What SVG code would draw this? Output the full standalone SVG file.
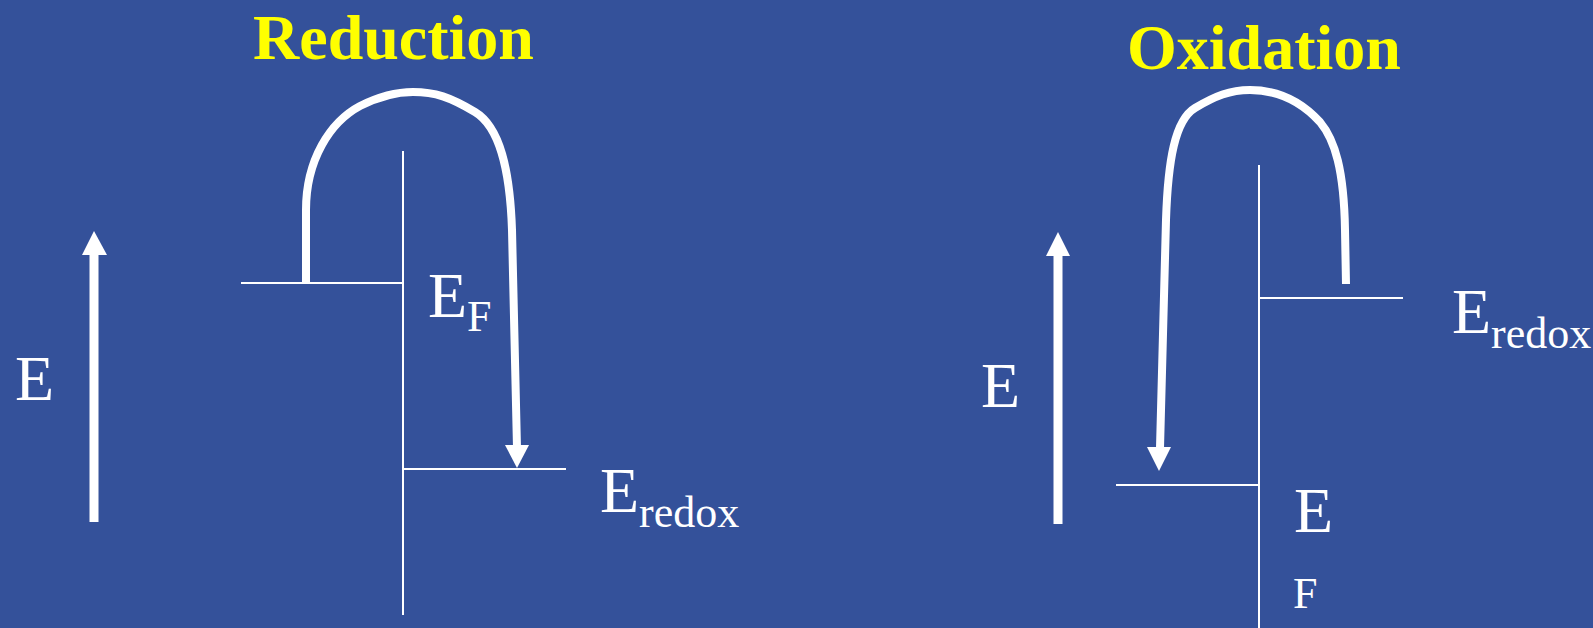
<svg xmlns="http://www.w3.org/2000/svg" width="1593" height="628" viewBox="0 0 1593 628">
<style>
.title{font-family:"Liberation Serif","Times New Roman",serif;font-weight:bold;font-size:64px;fill:#FFFF00}
.lbl{font-family:"Liberation Serif","Times New Roman",serif;font-size:64px;fill:#FFFFFF}
.sub{font-size:44px}
.thin{stroke:#FFFFFF;stroke-width:2;fill:none}
.thick{stroke:#FFFFFF;stroke-width:8;fill:none}
.head{fill:#FFFFFF}
</style>
<rect x="0" y="0" width="1593" height="628" fill="#34519A"/>
<g id="reduction">
  <text id="title-reduction" class="title" x="253" y="59">Reduction</text>
  <g id="axis-left">
    <rect x="89.5" y="254" width="9" height="268" class="head"/>
    <polygon points="94,231 82,255 107,255" class="head"/>
    <text class="lbl" x="15" y="400">E</text>
  </g>
  <g id="levels-left">
    <line x1="403" y1="151" x2="403" y2="615" class="thin"/>
    <line x1="241" y1="283" x2="403" y2="283" class="thin"/>
    <line x1="403" y1="469" x2="566" y2="469" class="thin"/>
    <text class="lbl" x="428" y="317">E<tspan class="sub" dy="14">F</tspan></text>
    <text class="lbl" x="600" y="512">E<tspan class="sub" dy="15">redox</tspan></text>
  </g>
</g>
<g id="oxidation">
  <text id="title-oxidation" class="title" x="1127" y="69">Oxidation</text>
  <g id="axis-right">
    <rect x="1053.5" y="255" width="9" height="269" class="head"/>
    <polygon points="1058,232 1046,256 1070,256" class="head"/>
    <text class="lbl" x="981" y="407">E</text>
  </g>
  <g id="levels-right">
    <line x1="1259" y1="165" x2="1259" y2="628" class="thin"/>
    <line x1="1259" y1="298" x2="1403" y2="298" class="thin"/>
    <line x1="1116" y1="485" x2="1259" y2="485" class="thin"/>
    <text class="lbl" x="1452" y="333">E<tspan class="sub" dy="15">redox</tspan></text>
    <text class="lbl" x="1294" y="532">E</text>
    <text class="lbl sub" x="1293" y="608">F</text>
  </g>
</g>
<g id="connectors">
  <path class="thick" d="M306,283 L306,210 C306,160 330,122 360,106 C380,96 395,92 413,92 C435,92 450,97 475,112 C500,127 510,170 512,230 L517,448"/>
  <polygon class="head" points="505,445 529,445 517,468"/>
  <path class="thick" d="M1346,284 L1345,230 C1344,170 1335,140 1320,122 C1300,100 1275,90 1250,90 C1230,90 1215,96 1195,108 C1175,120 1168,160 1166,220 L1160,448"/>
  <polygon class="head" points="1147,447 1171,447 1159,471"/>
</g>
</svg>
